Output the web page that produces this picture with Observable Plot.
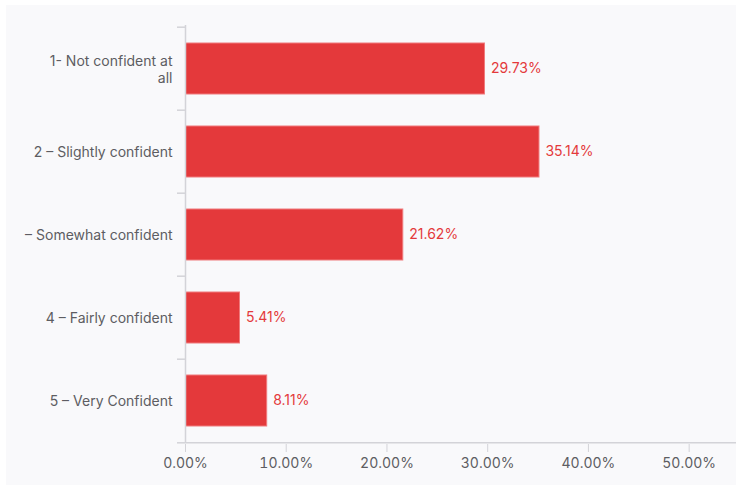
<!DOCTYPE html>
<html>
<head>
<meta charset="utf-8">
<script src="https://cdn.jsdelivr.net/npm/d3@7"></script>
<script src="https://cdn.jsdelivr.net/npm/@observablehq/plot@0.6"></script>
<style>
  html, body { margin: 0; padding: 0; background: #ffffff; }
  #wrap { position: relative; width: 736px; height: 485px; overflow: hidden; }
  #panel { position: absolute; left: 6px; top: 5px; right: 0; bottom: 0; background: #f9f9fb; }
  #chart { position: absolute; left: 0; top: 0; }
  #chart svg { background: transparent; overflow: visible; }
</style>
</head>
<body>
<div id="wrap"><div id="panel"></div><div id="chart"></div></div>
<script>
const categories = [
  "1- Not confident at\nall",
  "2 – Slightly confident",
  "– Somewhat confident",
  "4 – Fairly confident",
  "5 – Very Confident"
];
const values = [0.2973, 0.3514, 0.2162, 0.0541, 0.0811];
const tickValues = [0, 0.1, 0.2, 0.3, 0.4, 0.5];

const data = categories.map((c, i) => ({category: c, value: values[i]}));

const W = 736, H = 485;
const mTop = 25, mBottom = 42, mLeft = 185, mRight = 0;
const step = (H - mTop - mBottom) / categories.length;

const gray = "#d3d3d8";
const textGray = "#5d5d62";
const red = "#e4393b";

const chart = Plot.plot({
  width: W,
  height: H,
  marginTop: mTop,
  marginBottom: mBottom,
  marginLeft: mLeft,
  marginRight: mRight,
  style: {background: "transparent", fontFamily: "Inter, 'Open Sans', sans-serif", fontSize: "14px", color: textGray},
  x: {domain: [0, 0.547], ticks: tickValues, tickFormat: d3.format(".2%")},
  y: {domain: categories, paddingInner: 0.39, paddingOuter: 0.195},
  marks: [
    Plot.barX(data, {x: "value", y: "category", fill: red, stroke: "#f07a7c", strokeWidth: 1, insetLeft: 0.5}),
    Plot.text(data, {x: "value", y: "category", text: d => d3.format(".2%")(d.value), textAnchor: "start", dx: 6, fill: red, fontSize: 14}),
    Plot.ruleX([0], {stroke: gray, strokeWidth: 1.5}),
    Plot.ruleY([categories[categories.length - 1]], {dy: step / 2, stroke: gray, strokeWidth: 1.5}),
    Plot.axisY({ticks: categories, tickSize: 8, text: null, dy: -step / 2, stroke: gray, strokeWidth: 1.5, label: null}),
    Plot.axisY({ticks: [categories[categories.length - 1]], tickSize: 8, text: null, dy: step / 2, stroke: gray, strokeWidth: 1.5, label: null}),
    Plot.axisY({tickSize: 0, tickPadding: 13, fill: textGray, fontSize: 14, label: null, lineHeight: 1.2}),
    Plot.axisX({ticks: tickValues, tickSize: 8, tickPadding: 6, dy: 1, tickFormat: d3.format(".2%"), stroke: gray, fill: textGray, fontSize: 14, label: null})
  ]
});
document.getElementById("chart").appendChild(chart);
</script>
</body>
</html>
